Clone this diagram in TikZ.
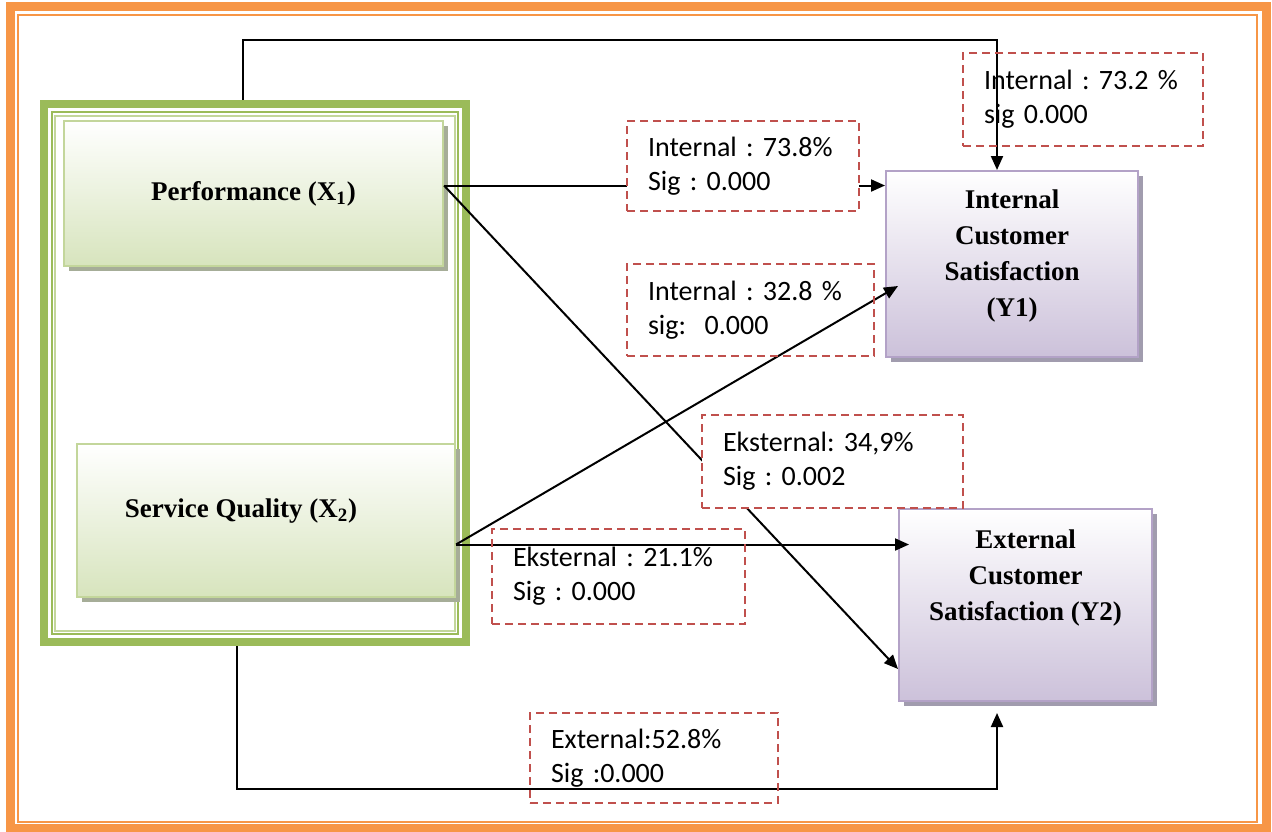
\documentclass[tikz,border=0pt]{standalone}
\usepackage{fontspec}
\newfontfamily\statfont{Carlito}
\newfontfamily\varfont{Liberation Serif}
\usepackage{xcolor}
\usetikzlibrary{positioning, arrows.meta, shadows}
\frenchspacing

\definecolor{frameorange}{HTML}{F79646}
\definecolor{framegreen}{HTML}{9BBB59}
\definecolor{greenedge}{HTML}{C3D69B}
\definecolor{greenfill}{HTML}{D7E4BD}
\definecolor{greenshadow}{HTML}{A6AD98}
\definecolor{purpleedge}{HTML}{B3A2C7}
\definecolor{purplefill}{HTML}{CCC1DA}
\definecolor{purpleshadow}{HTML}{A19CAE}
\definecolor{dashred}{HTML}{C0504D}

\begin{document}
\begin{tikzpicture}[x=0.5pt, y=-0.5pt,
  xbox/.style={draw=greenedge, line width=1pt, top color=white, bottom color=greenfill, inner sep=0pt,
    drop shadow={shadow xshift=2.5pt, shadow yshift=-2.5pt, fill=greenshadow, opacity=1}},
  ybox/.style={draw=purpleedge, line width=1pt, top color=white, bottom color=purplefill, inner sep=0pt,
    drop shadow={shadow xshift=2.5pt, shadow yshift=-2.5pt, fill=purpleshadow, opacity=1}},
  boxtext/.style={font=\varfont\bfseries\fontsize{13.5}{18}\selectfont, align=center},
  stat/.style={draw=dashred, line width=1pt, dash pattern=on 4pt off 2.5pt, align=left, inner xsep=10.5pt,
    font=\statfont\fontsize{14}{17}\selectfont},
  conn/.style={-{Triangle[length=7pt, width=6pt]}, line width=1pt}
]
\useasboundingbox (0,0) rectangle (1272,831);

% Page frame
\draw[frameorange, line width=4.5pt] (10.5,6.5) rectangle (1266,828.5);
\draw[frameorange, line width=1pt] (18,15) rectangle (1257,822);

% Independent variables
\node[draw=framegreen, line width=4pt, minimum width=211pt, minimum height=269pt] (grp) at (255,373) {};
\draw[framegreen, line width=1pt] (52,112) rectangle (458,634);
\draw[greenedge, line width=0.6pt] (55,116) rectangle (455,631);
\node[xbox, minimum width=189.5pt, minimum height=72.5pt] (perf) at (253.5,193.5) {};
\node[boxtext] (perftext) at (perf.center) {Performance (X\textsubscript{1})};
\node[xbox, minimum width=189pt, minimum height=76.5pt] (servq) at (266,520.5) {};
\node[boxtext] (servqtext) at ([shift={(-12.5pt,4.75pt)}]servq.center) {Service Quality (X\textsubscript{2})};

% Dependent variables
\node[ybox, minimum width=126pt, minimum height=93pt] (ics) at (1012,264) {};
\node[boxtext] (icstext) at ([yshift=4pt]ics.center) {Internal\\Customer\\Satisfaction\\(Y1)};
\node[ybox, minimum width=126.5pt, minimum height=96pt] (ecs) at (1025.5,605) {};
\node[boxtext] (ecstext) at ([yshift=13.5pt]ecs.center) {External\\Customer\\Satisfaction (Y2)};

% Paths
\draw[conn] ([yshift=4pt]perf.east) coordinate (pout) -- (pout -| ics.west);
\draw[conn] (pout) -- ([yshift=16.5pt]ecs.south west);
\draw[conn] ([yshift=-12pt]servq.east) coordinate (sout) -- ([shift={(6.5pt,-11pt)}]ics.west);
\draw[conn] (sout) -- ([xshift=5.5pt]sout -| ecs.west);
\draw[conn] ([xshift=-6pt]grp.north) -- ++(0,-60) -| ([xshift=-7.5pt]ics.north);
\draw[conn] ([xshift=-9pt]grp.south) -- ++(0,143) -| ([shift={(-14.25pt,-5.5pt)}]ecs.south);

% Coefficients
\node[stat, fill=white, text width=95pt, minimum height=45pt] (s1) at (743,166) {Internal : 73.8\%\\Sig : 0.000};
\node[stat, text width=102.5pt, minimum height=46pt] (s2) at (750.5,310) {Internal : 32.8 \%\\sig:\ \ 0.000};
\node[stat, text width=99pt, minimum height=46.5pt] (s3) at (1083,99.5) {Internal : 73.2 \%\\sig 0.000};
\node[stat, fill=white, text width=109.5pt, minimum height=46.5pt] (s4) at (832.5,461.5) {Eksternal: 34,9\%\\Sig : 0.002};
\node[stat, text width=105.5pt, minimum height=47.5pt] (s5) at (618.5,576.5) {Eksternal : 21.1\%\\Sig : 0.000};
\node[stat, text width=103pt, minimum height=45pt] (s6) at (654,758) {External:52.8\%\\Sig :0.000};
\end{tikzpicture}
\end{document}
